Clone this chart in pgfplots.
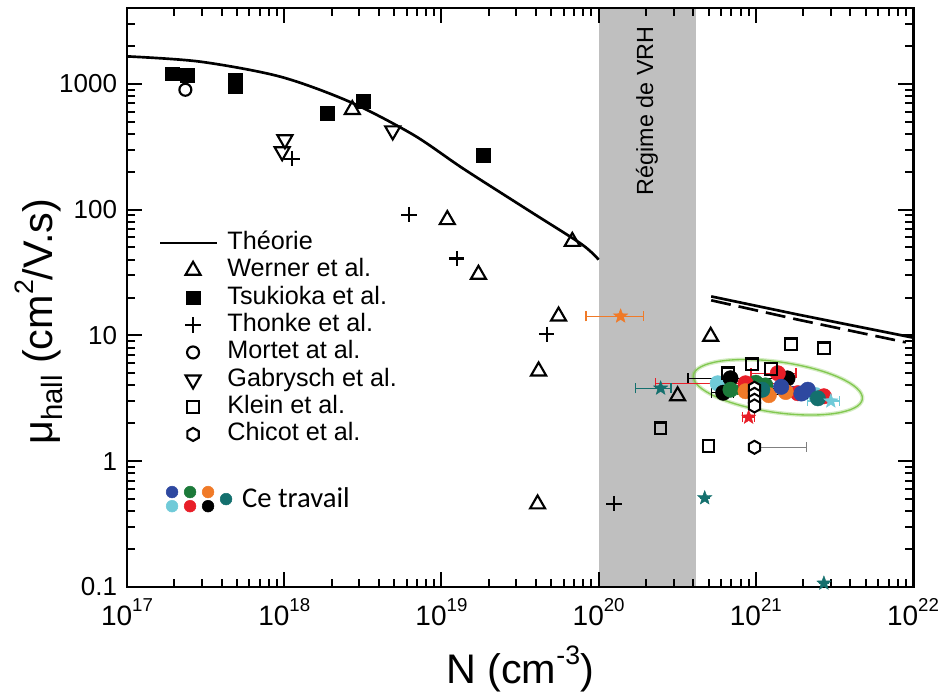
\documentclass[border=0pt]{standalone}
\usepackage{fontspec}
\setmainfont{Liberation Sans}
\newfontfamily\carlito{Carlito}
\usepackage{graphicx}
\usepackage{pgfplots}
\pgfplotsset{compat=1.18}
\usetikzlibrary{plotmarks}

\definecolor{cblue}{RGB}{46,72,160}
\definecolor{cgreen}{RGB}{28,122,58}
\definecolor{corange}{RGB}{240,122,40}
\definecolor{ccyan}{RGB}{112,202,216}
\definecolor{cred}{RGB}{232,30,40}
\definecolor{cteal}{RGB}{20,112,110}
\definecolor{vrh}{RGB}{191,191,191}
\definecolor{ellgreen}{RGB}{130,200,80}

\newcommand{\sups}[1]{\raisebox{0.5em}{\fontsize{14}{14}\selectfont #1}}
\newcommand{\supl}[1]{\raisebox{0.45em}{\fontsize{20}{20}\selectfont #1}}
\newcommand{\subl}[1]{\raisebox{-0.25em}{\fontsize{22}{22}\selectfont #1}}

\pgfdeclareplotmark{hexagon}{%
 \pgfpathmoveto{\pgfpointpolar{90}{\pgfplotmarksize}}%
 \pgfpathlineto{\pgfpointpolar{150}{\pgfplotmarksize}}%
 \pgfpathlineto{\pgfpointpolar{210}{\pgfplotmarksize}}%
 \pgfpathlineto{\pgfpointpolar{270}{\pgfplotmarksize}}%
 \pgfpathlineto{\pgfpointpolar{330}{\pgfplotmarksize}}%
 \pgfpathlineto{\pgfpointpolar{30}{\pgfplotmarksize}}%
 \pgfpathclose\pgfusepathqfillstroke}
\pgfdeclareplotmark{fstar}{%
 \pgfpathmoveto{\pgfpointpolar{90}{\pgfplotmarksize}}%
 \pgfpathlineto{\pgfpointpolar{126}{0.42\pgfplotmarksize}}%
 \pgfpathlineto{\pgfpointpolar{162}{\pgfplotmarksize}}%
 \pgfpathlineto{\pgfpointpolar{198}{0.42\pgfplotmarksize}}%
 \pgfpathlineto{\pgfpointpolar{234}{\pgfplotmarksize}}%
 \pgfpathlineto{\pgfpointpolar{270}{0.42\pgfplotmarksize}}%
 \pgfpathlineto{\pgfpointpolar{306}{\pgfplotmarksize}}%
 \pgfpathlineto{\pgfpointpolar{342}{0.42\pgfplotmarksize}}%
 \pgfpathlineto{\pgfpointpolar{18}{\pgfplotmarksize}}%
 \pgfpathlineto{\pgfpointpolar{54}{0.42\pgfplotmarksize}}%
 \pgfpathclose\pgfusepathqfillstroke}

\pgfplotsset{
 mk/.style={only marks, line width=1.6pt, black},
 lgline/.style={legend image code/.code={\draw[##1] (0pt,0pt) -- (43pt,0pt);}},
 lgmark/.style={legend image code/.code={\path (0pt,0pt) (43pt,0pt); \draw[##1] plot coordinates {(24.75pt,0pt)};}},
 lgdots/.style={legend image code/.code={
  \fill[cblue] (9pt,-2.2pt) circle (4.4pt);
  \fill[cgreen] (22.5pt,-2.2pt) circle (4.4pt);
  \fill[corange] (36pt,-2.2pt) circle (4.4pt);
  \fill[ccyan] (9pt,-12.8pt) circle (4.4pt);
  \fill[cred] (22.5pt,-12.8pt) circle (4.4pt);
  \fill[black] (36pt,-12.8pt) circle (4.4pt);
  \fill[cteal,overlay] (49.5pt,-7.5pt) circle (4.4pt);
  \path (0pt,0pt) (43pt,0pt);}},
 ebars/.style={error bars/x dir=both, error bars/x explicit,
   error bars/error bar style={line width=1pt, #1},
   error bars/error mark options={rotate=90, line width=1pt, #1, mark size=3.8pt}},
 dots/.style={only marks, mark=*, mark size=5.8pt, #1, mark options={fill=#1, draw=#1, line width=0.3pt}, ebars=#1},
 stars/.style={only marks, mark=fstar, mark size=5.6pt, #1, mark options={fill=#1, draw=#1, line width=0.3pt}, ebars=#1},
}

\begin{document}
\begin{tikzpicture}
\begin{axis}[
 scale only axis, width=589.5pt, height=434.25pt,
 xmode=log, ymode=log,
 xmin=1e17, xmax=1e22, ymin=0.1, ymax=4000,
 axis on top, clip=false,
 axis line style={line width=2.2pt},
 tick style={line width=1.5pt, black},
 major tick length=11pt, minor tick length=6pt,
 tick align=inside,
 xtick={1e17,1e18,1e19,1e20,1e21,1e22},
 xticklabels={10\sups{17},10\sups{18},10\sups{19},10\sups{20},10\sups{21},10\sups{22}},
 minor xtick={2e17,3e17,4e17,5e17,6e17,7e17,8e17,9e17,2e18,3e18,4e18,5e18,6e18,7e18,8e18,9e18,2e19,3e19,4e19,5e19,6e19,7e19,8e19,9e19,2e20,3e20,4e20,5e20,6e20,7e20,8e20,9e20,2e21,3e21,4e21,5e21,6e21,7e21,8e21,9e21},
 ytick={0.1,1,10,100,1000},
 yticklabels={0.1,1,10,100,1000},
 minor ytick={0.2,0.3,0.4,0.5,0.6,0.7,0.8,0.9,2,3,4,5,6,7,8,9,20,30,40,50,60,70,80,90,200,300,400,500,600,700,800,900,2000,3000},
 xticklabel style={font=\fontsize{21}{21}\selectfont, yshift=-5pt},
 yticklabel style={font=\fontsize{19.5}{19.5}\selectfont, xshift=-4pt},
 xlabel={N (cm\supl{-3})},
 xlabel style={font=\fontsize{31}{31}\selectfont, at={(axis description cs:0.5,-0.1416)}, anchor=center},
 ylabel={μ\subl{hall} (cm\supl{2}/V.s)},
 ylabel style={font=\fontsize{31}{31}\selectfont, at={(axis description cs:-0.112,0.458)}, anchor=center},
 legend style={at={(axis description cs:0.040,0.618)}, anchor=north west, draw=none, fill=none,
   font=\fontsize{18.9}{20}\selectfont, inner sep=0pt, row sep=0pt, column sep=5.5pt,
   nodes={inner sep=1pt, text height=14pt, text depth=4.5pt}},
 legend cell align=left,
]
% VRH band
\addplot[draw=none, fill=vrh, forget plot] coordinates {(1e20,0.1) (1e20,4000) (4.15e20,4000) (4.15e20,0.1)} --cycle;
\node[rotate=90, anchor=east, font=\fontsize{17.5}{17.5}\selectfont] at (axis cs:2.03e20,3100) {Régime de VRH};

% legend images
\addlegendimage{black, line width=2pt, lgline}
\addlegendentry{Théorie}
\addlegendimage{mk, mark=triangle, mark size=6.5pt, lgmark}
\addlegendentry{Werner et al.}
\addlegendimage{mk, mark=square*, mark size=5.2pt, mark options={line width=0.5pt}, lgmark}
\addlegendentry{Tsukioka et al.}
\addlegendimage{mk, mark=+, mark size=5.8pt, lgmark}
\addlegendentry{Thonke et al.}
\addlegendimage{mk, mark=o, mark size=4.5pt, lgmark}
\addlegendentry{Mortet at al.}
\addlegendimage{mk, mark=triangle, mark size=6.5pt, mark options={rotate=180}, lgmark}
\addlegendentry{Gabrysch et al.}
\addlegendimage{mk, mark=square, mark size=4.3pt, lgmark}
\addlegendentry{Klein et al.}
\addlegendimage{mk, mark=hexagon, mark size=4.9pt, mark options={fill=white}, lgmark}
\addlegendentry{Chicot et al.}
\addlegendimage{empty legend}
\addlegendentry{}
\addlegendimage{lgdots}
\addlegendentry{\raisebox{-9pt}{\carlito\fontsize{21.5}{22}\selectfont\hspace{11pt}Ce travail}}

% theory
\addplot[black, line width=2pt, smooth, forget plot] coordinates {
 (1e17,1650) (2.9e17,1500) (9.4e17,1140) (2.6e18,720) (6.6e18,394) (1.38e19,211) (3.7e19,96) (7.8e19,53) (1e20,40)};
\addplot[black, line width=2pt, forget plot] coordinates {(5.2e20,20.4) (1.87e21,14.6) (1e22,9.6)};
\addplot[black, line width=2pt, dash pattern=on 15pt off 6pt, forget plot] coordinates {(5.2e20,19.0) (1.87e21,13.3) (9.0e21,8.8)};

% ellipse
\draw[ellgreen, opacity=0.35, line width=3pt, rotate around={-8:(axis cs:1.38e21,3.87)}] (axis cs:1.38e21,3.87) ellipse [x radius=64pt, y radius=19pt];
\draw[ellgreen, line width=1pt, rotate around={-8:(axis cs:1.38e21,3.87)}] (axis cs:1.38e21,3.87) ellipse [x radius=64pt, y radius=19pt];

% Werner
\addplot[mk, mark=triangle, mark size=6.5pt, forget plot] coordinates {
 (2.71e18,622) (1.09e19,83) (1.72e19,30.5) (6.8e19,55.7) (5.56e19,14.2) (4.15e19,5.2) (4.09e19,0.456) (5.16e20,9.8) (3.18e20,3.3)};
% Tsukioka
\addplot[mk, mark=square*, mark size=5.2pt, mark options={line width=0.5pt}, forget plot] coordinates {
 (1.94e17,1200) (2.41e17,1170) (4.87e17,1075) (4.87e17,947) (1.88e18,578) (3.18e18,720) (1.85e19,268)};
% Thonke
\addplot[mk, mark=+, mark size=5.8pt, forget plot] coordinates {
 (1.12e18,254) (6.2e18,91) (1.25e19,40.8) (4.67e19,10.2) (1.25e20,0.46)};
% Mortet
\addplot[mk, mark=o, mark size=4.5pt, forget plot] coordinates {(2.35e17,896)};
% Gabrysch
\addplot[mk, mark=triangle, mark size=6.5pt, mark options={rotate=180}, forget plot] coordinates {
 (1.01e18,360) (9.7e17,289) (4.9e18,423)};

% Ce travail - circles
\addplot[dots=ccyan, forget plot] coordinates {(5.72e20,4.16) += (0,0) -= (0,0) (2.4e21,3.35) += (0,0) -= (0,0)};
\addplot[dots=black, forget plot] coordinates {(6.9e20,4.56) += (7.4e20,0) -= (3.2e20,0) (6.2e20,3.5) += (1.0e20,0) -= (1.0e20,0) (1.59e21,4.55) += (0,0) -= (0,0)};
\addplot[dots=cgreen, forget plot] coordinates {(6.9e20,3.7) += (0.8e20,0) -= (0.8e20,0) (1.0e21,4.2) += (0,0) -= (0,0) (1.15e21,4.0) += (0,0) -= (0,0)};
\addplot[dots=cred, forget plot] coordinates {(8.6e20,4.16) += (6.2e20,0) -= (6.3e20,0) (1.38e21,5.0) += (0.42e21,0) -= (0.45e21,0) (1.85e21,3.47) += (0,0) -= (0,0) (2.71e21,3.28) += (0,0) -= (0,0)};
\addplot[dots=corange, forget plot] coordinates {(8.6e20,3.6) += (1.2e20,0) -= (2.0e20,0) (1.21e21,3.35) += (0,0) -= (0,0) (1.55e21,3.55) += (0.3e21,0) -= (0.3e21,0)};
\addplot[dots=cblue, forget plot] coordinates {(1.45e21,3.9) += (0.69e21,0) -= (0.46e21,0) (2.14e21,3.7) += (0,0) -= (0,0) (1.95e21,3.45) += (0,0) -= (0,0)};
\addplot[dots=cteal, forget plot] coordinates {(2.48e21,3.16) += (0,0) -= (0,0) (1.1e21,3.7) += (0,0) -= (0,0)};

% Ce travail - stars
\addplot[stars=corange, forget plot] coordinates {(1.38e20,14.2) += (5.5e19,0) -= (5.5e19,0)};
\addplot[stars=cteal, forget plot] coordinates {(2.48e20,3.8) += (4.0e19,0) -= (7.6e19,0) (4.73e20,0.51) += (0,0) -= (0,0) (2.71e21,0.107) += (0,0) -= (0,0)};
\addplot[stars=cred, forget plot] coordinates {(9.0e20,2.23) += (0.8e20,0) -= (0.8e20,0)};
\addplot[stars=ccyan, forget plot] coordinates {(3.0e21,3.0) += (0.4e21,0) -= (0.86e21,0)};

% Klein
\addplot[mk, mark=square, mark size=4.3pt, forget plot] coordinates {
 (1.67e21,8.5) (2.71e21,7.9) (9.45e20,5.9) (6.64e20,5.0) (1.25e21,5.4) (2.48e20,1.83) (5.0e20,1.32)};

% Chicot
\addplot[mk, mark=hexagon, mark size=4.9pt, mark options={fill=white, line width=1.5pt}, forget plot,
  error bars/x dir=plus, error bars/x explicit, error bars/error bar style={line width=1pt, black},
  error bars/error mark options={rotate=90, line width=1pt, black, mark size=3.8pt}] coordinates {
 (9.8e20,3.8) += (1.16e21,0) (9.8e20,3.4) += (1.16e21,0) (9.8e20,3.05) += (0,0) (9.8e20,2.75) += (0,0)};
\addplot[mk, mark=hexagon, mark size=4.9pt, mark options={fill=white, line width=1.5pt}, forget plot,
  error bars/x dir=plus, error bars/x explicit, error bars/error bar style={line width=1pt, gray},
  error bars/error mark options={rotate=90, line width=1pt, gray, mark size=3.8pt}] coordinates {
 (9.8e20,1.29) += (1.12e21,0)};
\end{axis}
\pgfresetboundingbox
\path (current axis.south west) ++(-95.25pt,-82.5pt) rectangle ++(707.25pt,522.75pt);
\end{tikzpicture}
\end{document}
